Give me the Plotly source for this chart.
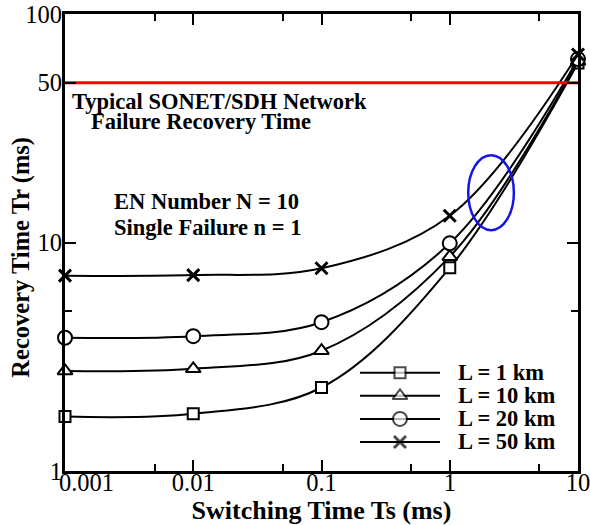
import plotly.graph_objects as go

# ---------------- data ----------------
switching_time = [0.001, 0.01, 0.1, 1, 10]
series_labels = ["L = 1 km", "L = 10 km", "L = 20 km", "L = 50 km"]
recovery_1km = [1.73, 1.78, 2.32, 7.76, 61.0]
recovery_10km = [2.74, 2.80, 3.36, 8.67, 62.0]
recovery_20km = [3.83, 3.89, 4.48, 9.92, 63.5]
recovery_50km = [7.16, 7.20, 7.71, 13.1, 66.5]
sonet_limit = [50, 50]
sonet_x = [0.001, 10]

x_tickvals = [0.001, 0.01, 0.1, 1, 10]
x_ticktext = ["0.001", "0.01", "0.1", "1", "10"]
x_minor = [0.005, 0.05, 0.5, 5]
y_tickvals = [1, 10, 50, 100]
y_ticktext = ["1", "10", "50", "100"]
y_minor = [5]

note_sonet = ["Typical SONET/SDH Network", "Failure Recovery Time"]
note_params = ["EN Number N = 10", "Single Failure n = 1"]

# ---------------- styles ----------------
FONT = "Liberation Serif"
series_values = [recovery_1km, recovery_10km, recovery_20km, recovery_50km]
symbols = ["square", "triangle-up", "circle", "x-thin"]
sizes = [11, 13, 14, 12]
mline = [2, 2, 2, 3]

fig = go.Figure()

for vals, sym, sz, lw in zip(series_values, symbols, sizes, mline):
    fig.add_trace(go.Scatter(
        x=switching_time, y=vals, mode="lines+markers",
        line=dict(color="black", width=2, shape="spline", smoothing=1),
        marker=dict(symbol=sym, size=sz, color="white",
                    line=dict(color="black", width=lw)),
        cliponaxis=False, showlegend=False))

fig.add_trace(go.Scatter(
    x=sonet_x, y=sonet_limit, mode="lines",
    line=dict(color="#ff0000", width=3), showlegend=False))

# ---------------- manual legend on an overlay axis ----------------
leg_x0, leg_xm, leg_x1, leg_text_x = 0.575, 0.653, 0.731, 0.762
leg_top, leg_step = 0.215, 0.0505
for i, (lab, sym, sz, lw) in enumerate(zip(series_labels, symbols, sizes, mline)):
    ry = leg_top - i * leg_step
    fig.add_trace(go.Scatter(
        x=[leg_x0, leg_xm, leg_x1], y=[ry, ry, ry], mode="lines+markers",
        xaxis="x2", yaxis="y2",
        line=dict(color="black", width=2),
        marker=dict(symbol=sym, size=[0, sz, 0], color="white",
                    line=dict(color="black", width=lw)),
        cliponaxis=False, showlegend=False))
    fig.add_annotation(x=leg_text_x, y=ry, xref="paper", yref="paper",
                       text=lab, showarrow=False, xanchor="left", yanchor="middle",
                       font=dict(family=FONT, size=22.5, color="black", weight="bold"))

# ---------------- notes ----------------
for txt, px, py in [(note_sonet[0], 0.009, 0.8096), (note_sonet[1], 0.046, 0.7637),
                    (note_params[0], 0.092, 0.589), (note_params[1], 0.092, 0.532)]:
    fig.add_annotation(x=px, y=py, xref="paper", yref="paper", text=txt,
                       showarrow=False, xanchor="left", yanchor="middle",
                       font=dict(family=FONT, size=22.5, color="black", weight="bold"))

# y axis title as annotation
fig.add_annotation(x=-0.0858, y=0.469, xref="paper", yref="paper",
                   text="Recovery Time Tr (ms)", textangle=-90, showarrow=False,
                   xanchor="center", yanchor="middle",
                   font=dict(family=FONT, size=24.5, color="black", weight="bold"))

# blue ellipse
fig.add_shape(type="circle", xref="paper", yref="paper",
              x0=0.786, x1=0.875, y0=0.527, y1=0.691,
              line=dict(color="#1414e6", width=2.5))

x_ticktext_shifted = ["\u00a0" * 7 + x_ticktext[0]] + x_ticktext[1:]

fig.update_layout(
    template="none",
    width=590, height=525,
    margin=dict(l=65, r=12, t=14, b=54, autoexpand=False),
    paper_bgcolor="white", plot_bgcolor="white",
    font=dict(family=FONT, color="black"),
    showlegend=False,
    xaxis=dict(type="log", range=[-3, 1], automargin=False,
               tickvals=x_tickvals, ticktext=x_ticktext_shifted,
               ticks="inside", ticklen=11, tickwidth=2, tickcolor="black",
               ticklabelstandoff=-12, ticklabeloverflow="allow",
               minor=dict(tickvals=x_minor, ticks="inside", ticklen=7,
                          tickwidth=2, tickcolor="black"),
               showline=True, linewidth=3, linecolor="black", mirror="ticks",
               showgrid=False, zeroline=False,
               tickfont=dict(family=FONT, size=24.5, color="black"),
               title=dict(text="Switching Time Ts (ms)", standoff=8,
                          font=dict(family=FONT, size=26, color="black", weight="bold"))),
    yaxis=dict(type="log", range=[0, 2], automargin=False,
               tickvals=y_tickvals, ticktext=y_ticktext,
               ticks="inside", ticklen=11, tickwidth=2, tickcolor="black",
               ticklabelstandoff=-5, ticklabeloverflow="allow",
               minor=dict(tickvals=y_minor, ticks="inside", ticklen=7,
                          tickwidth=2, tickcolor="black"),
               showline=True, linewidth=3, linecolor="black", mirror="ticks",
               showgrid=False, zeroline=False,
               tickfont=dict(family=FONT, size=24.5, color="black")),
    xaxis2=dict(overlaying="x", range=[0, 1], visible=False, fixedrange=True,
                automargin=False),
    yaxis2=dict(overlaying="y", range=[0, 1], visible=False, fixedrange=True,
                automargin=False),
)

fig.write_html("out.html", config={"displayModeBar": False},
               post_script="document.body.style.margin='0';document.body.style.overflow='hidden';")
